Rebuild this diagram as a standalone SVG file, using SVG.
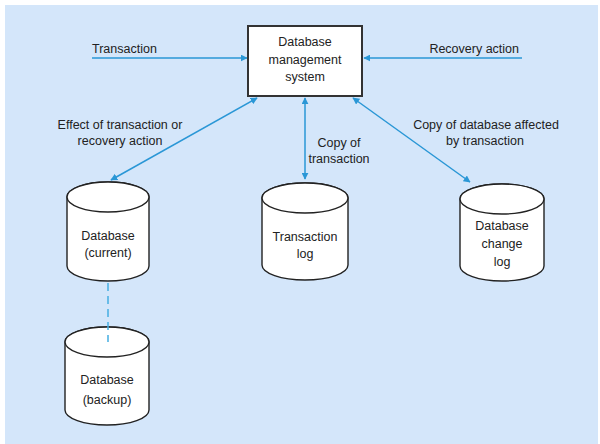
<svg xmlns="http://www.w3.org/2000/svg" width="600" height="444" viewBox="0 0 600 444">
  <style>
    text { font-family: "Liberation Sans", Arial, sans-serif; font-size: 12.5px; fill: #222; }
    .mid { text-anchor: middle; }
    .flow { stroke: #2a97d6; stroke-width: 1.5; fill: none; }
    .dash { stroke: #45aee2; stroke-width: 1.5; fill: none; stroke-dasharray: 8 5; }
    .store { fill: #fff; stroke: #222; stroke-width: 1.4; }
    .box { fill: #fff; stroke: #333; stroke-width: 2; }
  </style>
  <defs>
    <marker id="arrow" viewBox="0 0 10 10" refX="9" refY="5" markerWidth="7" markerHeight="7" markerUnits="userSpaceOnUse" orient="auto-start-reverse">
      <path d="M0,0 L10,5 L0,10 z" fill="#2a97d6"/>
    </marker>
  </defs>

  <!-- panel -->
  <rect x="5" y="5" width="593" height="439" fill="#d4e6fa"/>

  <!-- connectors -->
  <g id="connectors">
    <line class="flow" x1="92" y1="58" x2="247" y2="58" marker-end="url(#arrow)"/>
    <line class="flow" x1="522" y1="58" x2="364" y2="58" marker-end="url(#arrow)"/>
    <line class="flow" x1="111" y1="180" x2="257" y2="98" marker-start="url(#arrow)" marker-end="url(#arrow)"/>
    <line class="flow" x1="305" y1="179" x2="305" y2="98" marker-start="url(#arrow)" marker-end="url(#arrow)"/>
    <line class="flow" x1="470" y1="182" x2="353" y2="98" marker-start="url(#arrow)" marker-end="url(#arrow)"/>
    <text x="92" y="53">Transaction</text>
    <text x="519" y="53" text-anchor="end">Recovery action</text>
    <text class="mid" x="120" y="129">Effect of transaction or</text>
    <text class="mid" x="120" y="145">recovery action</text>
    <text class="mid" x="339" y="147">Copy of</text>
    <text class="mid" x="339" y="163">transaction</text>
    <text class="mid" x="486" y="129">Copy of database affected</text>
    <text class="mid" x="485" y="145">by transaction</text>
  </g>

  <!-- DBMS -->
  <g id="dbms">
    <rect class="box" x="248" y="26" width="114" height="70"/>
    <text class="mid" x="305" y="46">Database</text>
    <text class="mid" x="305" y="64">management</text>
    <text class="mid" x="305" y="81">system</text>
  </g>

  <!-- current database -->
  <g id="db-current">
    <path class="store" d="M67,197 L67,266 A41,15 0 0 0 149,266 L149,197 A41,15 0 0 0 67,197 z"/>
    <ellipse class="store" cx="108" cy="197" rx="41" ry="15"/>
    <text class="mid" x="108" y="240">Database</text>
    <text class="mid" x="108" y="257">(current)</text>
  </g>

  <!-- transaction log -->
  <g id="txn-log">
    <path class="store" d="M262,198 L262,265 A43,15 0 0 0 348,265 L348,198 A43,15 0 0 0 262,198 z"/>
    <ellipse class="store" cx="305" cy="198" rx="43" ry="15"/>
    <text class="mid" x="305" y="241">Transaction</text>
    <text class="mid" x="305" y="258">log</text>
  </g>

  <!-- database change log -->
  <g id="change-log">
    <path class="store" d="M460,199 L460,266 A42,15 0 0 0 544,266 L544,199 A42,15 0 0 0 460,199 z"/>
    <ellipse class="store" cx="502" cy="199" rx="42" ry="15"/>
    <text class="mid" x="502" y="230">Database</text>
    <text class="mid" x="502" y="248">change</text>
    <text class="mid" x="502" y="266">log</text>
  </g>

  <!-- backup database -->
  <g id="db-backup">
    <path class="store" d="M65,342 L65,410 A42,15 0 0 0 149,410 L149,342 A42,15 0 0 0 65,342 z"/>
    <ellipse class="store" cx="107" cy="342" rx="42" ry="15"/>
    <text class="mid" x="107" y="384">Database</text>
    <text class="mid" x="107" y="404">(backup)</text>
  </g>

  <!-- backup link -->
  <g id="backup-link">
    <line class="dash" x1="108" y1="283" x2="108" y2="342"/>
  </g>
</svg>
